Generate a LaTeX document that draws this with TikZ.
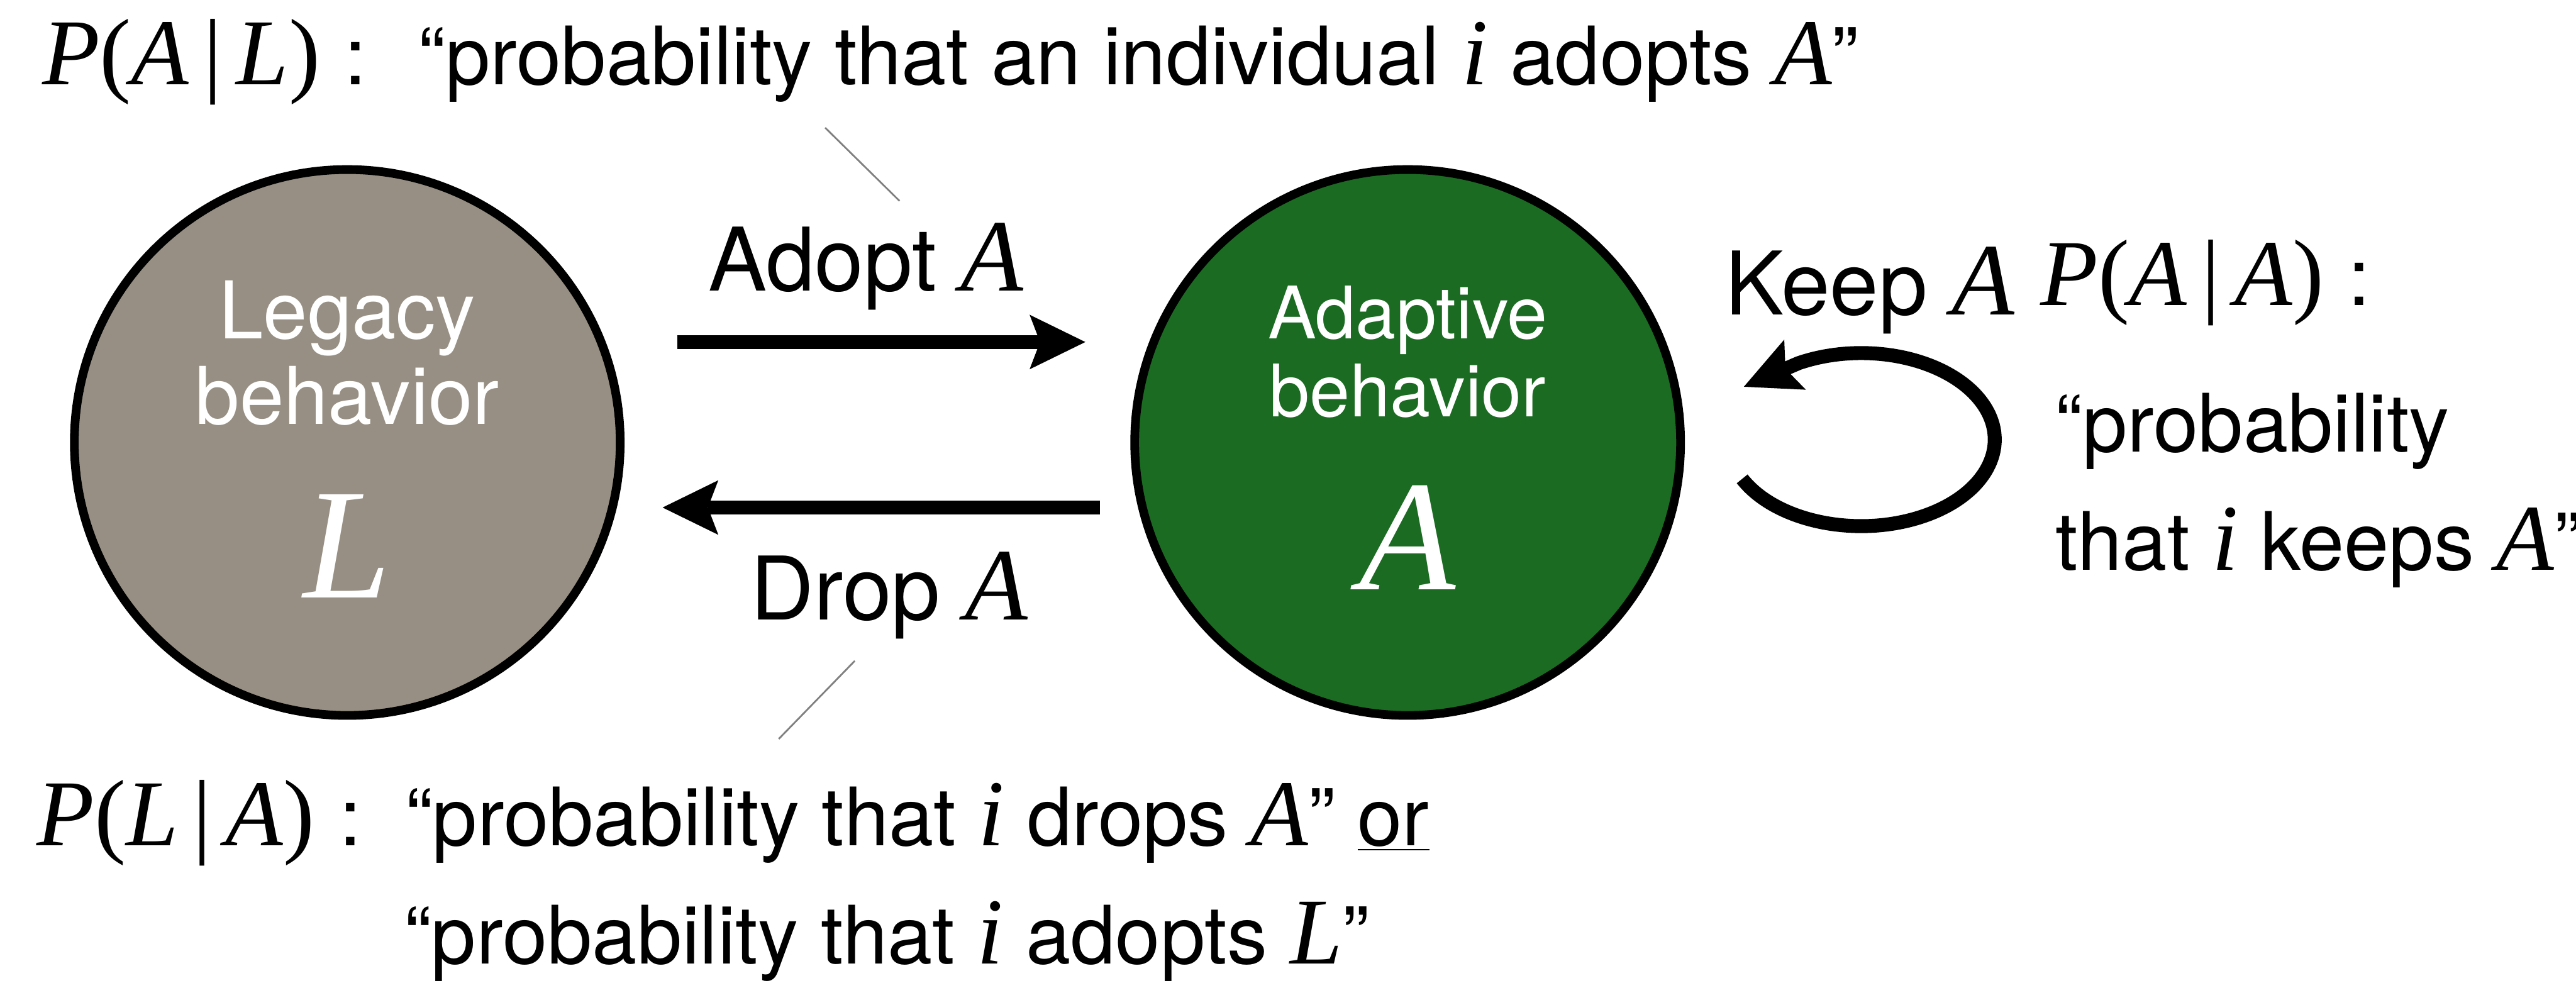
\documentclass[tikz,border=0pt]{standalone}
\usepackage{fontspec}
\setmainfont{TeX Gyre Heros}
\newfontfamily\varfont{Liberation Serif}[Scale=1.17]
\usetikzlibrary{arrows.meta,positioning}
\definecolor{Lc}{HTML}{978F83}
\definecolor{Ac}{HTML}{1B6B22}
\definecolor{leadc}{HTML}{808080}
\tikzset{
  bhv/.style={circle, draw=black, line width=1.5mm, minimum size=9.4cm, inner sep=0pt},
  inlab/.style={text=white, anchor=base, inner sep=0pt},
  big/.style={text=white, anchor=base, inner sep=0pt, font=\fontsize{66}{70}\selectfont\varfont\itshape},
  act/.style={anchor=base, inner sep=0pt, font=\fontsize{43}{50}\selectfont},
  lab/.style={anchor=base west, inner sep=0pt, font=\fontsize{39.5}{47}\selectfont},
  flow/.style={-{Stealth[length=9.6mm, width=9.4mm, inset=1.8mm, line width=0pt]}, line width=2.4mm},
  lead/.style={leadc, line width=0.3mm},
}
\newcommand{\Iv}[1]{{\varfont\itshape #1}}
\newcommand{\Pcond}[2]{{\varfont\textit{P}(\textit{#1}\kern.15em|\kern.15em\textit{#2})}\hspace{.3em}:}

\begin{document}
\begin{tikzpicture}
  \useasboundingbox (0,0) rectangle (44.36,16.92);
  % the two behaviors
  \node[bhv, fill=Lc] (L) at (5.98,9.30) {};
  \node[bhv, fill=Ac] (A) at (24.24,9.30) {};
  \node[inlab, font=\fontsize{39}{47}\selectfont] (Lt1) at ([yshift=1.79cm]L.center) {Legacy};
  \node[inlab, font=\fontsize{39}{47}\selectfont] (Lt2) at ([yshift=0.32cm]L.center) {behavior};
  \node[big] (Lsym) at ([yshift=-2.67cm]L.center) {L};
  \node[inlab, font=\fontsize{35.5}{42}\selectfont] (At1) at ([yshift=1.79cm]A.center) {Adaptive};
  \node[inlab, font=\fontsize{35.5}{42}\selectfont] (At2) at ([yshift=0.45cm]A.center) {behavior};
  \node[big] (Asym) at ([yshift=-2.53cm]A.center) {A};

  % transitions
  \draw[flow] ([xshift=5.68cm,yshift=1.73cm]L.center) -- ([xshift=-5.55cm,yshift=1.73cm]A.center);
  \draw[flow] ([xshift=-5.30cm,yshift=-1.12cm]A.center) -- ([xshift=5.43cm,yshift=-1.12cm]L.center);
  \node[act] (adopt) at (14.91,11.91) {Adopt \Iv{A}};
  \node[act] (drop) at (15.31,6.25) {Drop \Iv{A}};

  % self loop on A
  \coordinate (keep) at ([xshift=7.81cm,yshift=0.05cm]A.center);
  \coordinate (ktip) at (30.03,10.26);
  \draw[flow] ([shift={(-153:2.30 and 1.49)}]keep)
    arc[start angle=-153, end angle=118, x radius=2.30, y radius=1.49] -- (ktip);
  \node[act, anchor=base west] (keepl) at (29.70,11.50) {Keep \Iv{A}};

  % probabilities
  \node[lab] (pal) at (0.72,15.46) {\Pcond{A}{L}};
  \node[lab] (pald) at (7.20,15.46) {“probability that an individual \Iv{i} adopts \Iv{A}”};
  \node[lab] (pla) at (0.63,2.36) {\Pcond{L}{A}};
  \node[lab] (plad1) at (6.98,2.36) {“probability that \Iv{i} drops \Iv{A}” \underline{or}};
  \node[lab] (plad2) at (6.96,0.32) {“probability that \Iv{i} adopts \Iv{L}”};
  \node[lab] (paa) at (35.13,11.66) {\Pcond{A}{A}};
  \node[lab] (paad1) at (35.39,9.14) {“probability};
  \node[lab] (paad2) at (35.39,7.10) {that \Iv{i} keeps \Iv{A}”};

  % leader lines
  \coordinate (up1) at (14.21,14.72);
  \coordinate (up2) at (15.49,13.46);
  \draw[lead] (up1) -- (up2);
  \coordinate (dn1) at (14.72,5.54);
  \coordinate (dn2) at (13.41,4.195);
  \draw[lead] (dn1) -- (dn2);
\end{tikzpicture}
\end{document}
